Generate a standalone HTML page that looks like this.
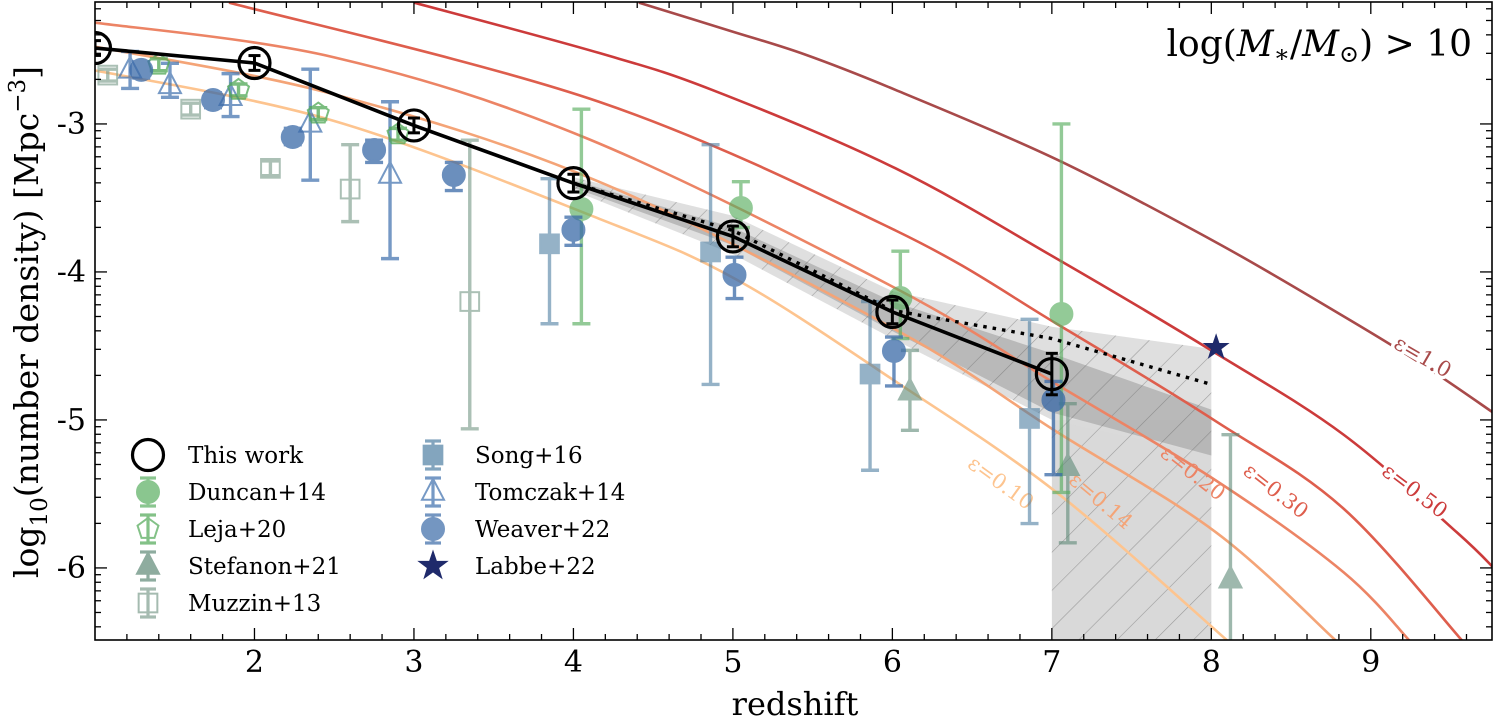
<!DOCTYPE html>
<html><head><meta charset="utf-8"><style>
html,body{margin:0;padding:0;background:#fff;}
svg{display:block;font-family:"DejaVu Serif","Liberation Serif",serif;}
</style></head><body>
<svg id="chart" width="1497" height="721" viewBox="0 0 1497 721" xmlns="http://www.w3.org/2000/svg">
<defs>
<clipPath id="clip"><rect x="95" y="2" width="1397" height="638"/></clipPath>
<pattern id="hatch" patternUnits="userSpaceOnUse" width="27" height="27" patternTransform="rotate(45)">
<line x1="0" y1="0" x2="0" y2="27" stroke="#666" stroke-width="1.2" stroke-opacity="0.55"/>
</pattern>
</defs>
<g id="bg"></g>
<g id="plot" clip-path="url(#clip)"></g>
<g id="axes"></g>
<g id="legend"></g>
</svg>
<script>
// ---- data ----
const epsLabels = ["ε=0.10","ε=0.14","ε=0.20","ε=0.30","ε=0.50","ε=1.0"];
const epsColors = ["#fdc48f","#f4a477","#ec8465","#de5e4d","#cc3b3b","#a84a4a"];
const eps010z = [0.96,2.5,4.16,5.02,6.02,7.03,8.11];
const eps010v = [-2.63,-2.98,-3.64,-4.05,-4.74,-5.49,-6.5];
const eps014z = [0.96,2.5,4.16,6.02,7.03,8.03,8.79];
const eps014v = [-2.47,-2.80,-3.39,-4.39,-5.08,-5.76,-6.5];
const eps020z = [0.96,2.5,4.09,6.02,7.03,8.03,8.83,9.25];
const eps020v = [-2.31,-2.55,-3.10,-4.11,-4.76,-5.41,-6.03,-6.5];
const eps030z = [1.84,4.16,6.02,7.03,8.03,8.83,9.58];
const eps030v = [-2.18,-2.85,-3.72,-4.35,-5.01,-5.60,-6.5];
const eps050z = [3.0,4.16,4.87,6.02,7.03,8.03,8.83,9.54,9.78];
const eps050v = [-2.18,-2.52,-2.77,-3.30,-3.91,-4.55,-5.10,-5.76,-6.01];
const eps100z = [4.41,4.98,5.45,6.02,7.03,8.03,8.83,9.33,9.78];
const eps100v = [-2.18,-2.37,-2.53,-2.77,-3.24,-3.80,-4.30,-4.63,-4.96];

const thisZ = [1,2,3,4,5,6,7];
const thisV = [-2.487,-2.588,-3.01,-3.40,-3.76,-4.27,-4.69];
const thisErr = [0.05,0.05,0.05,0.06,0.07,0.08,0.14];
const dotZ = [4,5,6,7,8];
const dotV = [-3.40,-3.72,-4.26,-4.45,-4.76];
const bandZ = [4,5,6,7,8];
const lightTop = [-3.36,-3.62,-4.13,-4.37,-4.52];
const lightBot = [-3.45,-3.88,-4.45,-5.0,-5.24];
const darkTop = [-3.38,-3.70,-4.20,-4.55,-4.93];
const darkBot = [-3.43,-3.82,-4.40,-4.95,-5.24];
const rectZ = [7,8];

const duncanZ = [4.05,5.05,6.05,7.06];
const duncanV = [-3.575,-3.568,-4.176,-4.284];
const duncanHi = [-2.90,-3.39,-3.86,-3.0];
const duncanLo = [-4.35,-3.70,-4.45,-5.49];
const lejaZ = [1.40,1.90,2.40,2.90];
const lejaV = [-2.60,-2.77,-2.93,-3.07];
const stefZ = [6.11,7.10,8.12];
const stefV = [-4.81,-5.32,-6.08];
const stefHi = [-4.53,-4.89,-5.10];
const stefLo = [-5.07,-5.83,-6.7];
const muzZ = [1.08,1.60,2.10,2.60,3.35];
const muzV = [-2.67,-2.90,-3.30,-3.44,-4.20];
const muzHi = [-2.63,-2.86,-3.25,-3.14,-3.11];
const muzLo = [-2.71,-2.94,-3.35,-3.66,-5.06];
const songZ = [3.85,4.86,5.86,6.86];
const songV = [-3.81,-3.865,-4.69,-4.99];
const songHi = [-3.37,-3.14,-4.20,-4.32];
const songLo = [-4.35,-4.76,-5.34,-5.70];
const tomZ = [1.22,1.47,1.85,2.35,2.85];
const tomV = [-2.635,-2.74,-2.82,-3.0,-3.345];
const tomHi = [-2.51,-2.59,-2.66,-2.63,-2.85];
const tomLo = [-2.76,-2.82,-2.95,-3.38,-3.91];
const weaZ = [1.29,1.74,2.24,2.75,3.25,4.0,5.01,6.01,7.01];
const weaV = [-2.635,-2.838,-3.088,-3.176,-3.345,-3.716,-4.02,-4.534,-4.865];
const weaHi = [-2.58,-2.79,-3.03,-3.11,-3.26,-3.63,-3.90,-4.44,-4.74];
const weaLo = [-2.69,-2.89,-3.14,-3.26,-3.45,-3.82,-4.18,-4.77,-5.37];
const labbeZ = [8.03];
const labbeV = [-4.51];

const xTicks = [2,3,4,5,6,7,8,9];
const yTicks = [-3,-4,-5,-6];

// ---- scales ----
const X0=95, X1=1492, Y0=2, Y1=640;
const zMin=1.0, zMax=9.76, vMax=-2.176, vMin=-6.487;
function X(z){return X0+(z-zMin)/(zMax-zMin)*(X1-X0);}
function Y(v){return Y0+(vMax-v)/(vMax-vMin)*(Y1-Y0);}

const NS="http://www.w3.org/2000/svg";
function mk(tag,attrs,parent){const e=document.createElementNS(NS,tag);for(const k in attrs)e.setAttribute(k,attrs[k]);parent.appendChild(e);return e;}
const plot=document.getElementById('plot'), axes=document.getElementById('axes'), leg=document.getElementById('legend');

function smoothPath(zs,vs){
  const p=zs.map((z,i)=>[X(z),Y(vs[i])]);
  let d=`M${p[0][0]},${p[0][1]}`;
  for(let i=0;i<p.length-1;i++){
    const a=p[Math.max(0,i-1)],b=p[i],c=p[i+1],e=p[Math.min(p.length-1,i+2)];
    const c1=[b[0]+(c[0]-a[0])/6,b[1]+(c[1]-a[1])/6],c2=[c[0]-(e[0]-b[0])/6,c[1]-(e[1]-b[1])/6];
    d+=` C${c1[0]},${c1[1]} ${c2[0]},${c2[1]} ${c[0]},${c[1]}`;
  }
  return d;
}

// ---- bands ----
function bandPoly(top,bot){
  let pts=bandZ.map((z,i)=>X(z)+","+Y(top[i]));
  pts=pts.concat(bandZ.map((z,i)=>X(z)+","+Y(bot[i])).reverse());
  return pts.join(" ");
}
let el;
el=mk('rect',{x:X(rectZ[0]),y:Y(lightBot[3]),width:X(rectZ[1])-X(rectZ[0]),height:Y1-Y(lightBot[3]),fill:'#d9d9d9'},plot);


el=mk('polygon',{points:bandPoly(lightTop,lightBot),fill:'#d9d9d9','fill-opacity':0.85},plot);


el=mk('polygon',{points:bandPoly(darkTop,darkBot),fill:'#a8a8a8','fill-opacity':0.7},plot);


{
  let pts=bandZ.map((z,i)=>X(z)+","+Y(lightTop[i]));
  pts.push(X(8)+","+Y1, X(7)+","+Y1, X(7)+","+Y(lightBot[3]));
  pts=pts.concat(bandZ.slice(0,4).map((z,i)=>X(z)+","+Y(lightBot[i])).reverse());
  el=mk('polygon',{points:pts.join(" "),fill:'url(#hatch)'},plot);
  
  
}

// ---- epsilon curves ----
const epsZ=[eps010z,eps014z,eps020z,eps030z,eps050z,eps100z];
const epsV=[eps010v,eps014v,eps020v,eps030v,eps050v,eps100v];
for(let k=0;k<6;k++){
  el=mk('path',{d:smoothPath(epsZ[k],epsV[k]),fill:'none',stroke:epsColors[k],'stroke-width':2.6},plot);
  
  
}
const lblPos=[[1000,484,36],[1100,502,40],[1192,474,38],[1275,492,38],[1414,492,37],[1422,358,30]];
const lblStroke=[7,0,0,7,7,7];
for(let k=0;k<6;k++){
  const [lx,ly,ang]=lblPos[k];
  el=mk('text',{x:lx,y:ly,'font-size':21,fill:epsColors[k],'text-anchor':'middle','dominant-baseline':'middle',transform:`rotate(${ang} ${lx} ${ly})`,stroke:'#fff','stroke-width':lblStroke[k],'paint-order':'stroke'},plot);
  el.textContent=epsLabels[k];
  
  
}

// ---- markers ----
function errbar(g,z,hi,lo,color,w){
  const x=X(z);
  mk('line',{x1:x,x2:x,y1:Y(hi),y2:Y(lo),stroke:color,'stroke-width':w},g);
  mk('line',{x1:x-9,x2:x+9,y1:Y(hi),y2:Y(hi),stroke:color,'stroke-width':w},g);
  mk('line',{x1:x-9,x2:x+9,y1:Y(lo),y2:Y(lo),stroke:color,'stroke-width':w},g);
}
function marker(g,type,x,y,color,fill,s){
  s=s||11;
  if(type==='circle') mk('circle',{cx:x,cy:y,r:s,fill:fill,stroke:color,'stroke-width':2},g);
  else if(type==='square') mk('rect',{x:x-s*0.85,y:y-s*0.85,width:s*1.7,height:s*1.7,fill:fill,stroke:color,'stroke-width':2},g);
  else if(type==='tri') mk('polygon',{points:`${x},${y-s*1.2} ${x-s},${y+s*0.7} ${x+s},${y+s*0.7}`,fill:fill,stroke:color,'stroke-width':2},g);
  else if(type==='pent'){let p=[];for(let i=0;i<5;i++){const a=-Math.PI/2+i*2*Math.PI/5;p.push((x+s*Math.cos(a))+","+(y+s*Math.sin(a)));}mk('polygon',{points:p.join(" "),fill:fill,stroke:color,'stroke-width':2},g);}
  else if(type==='star'){let p=[];for(let i=0;i<10;i++){const r=i%2?s*0.45:s*1.15;const a=-Math.PI/2+i*Math.PI/5;p.push((x+r*Math.cos(a))+","+(y+r*Math.sin(a)));}mk('polygon',{points:p.join(" "),fill:fill,stroke:color,'stroke-width':1},g);}
}
function series(name,zs,vs,his,los,type,color,fill,alpha){
  const g=mk('g',{opacity:alpha},plot);
  
  
  zs.forEach((z,i)=>{
    if(his) errbar(g,z,his[i],los[i],color,3.4);
    marker(g,type,X(z),Y(vs[i]),color,fill);
  });
}
const lejaHi=lejaV.map(v=>v+0.04), lejaLo=lejaV.map(v=>v-0.04);
series('muzzin13-points',muzZ,muzV,muzHi,muzLo,'square','#7f9f8f','none',0.65);
series('song16-points',songZ,songV,songHi,songLo,'square','#4f7fa3','#4f7fa3',0.6);
series('stefanon21-points',stefZ,stefV,stefHi,stefLo,'tri','#5f8a77','#5f8a77',0.6);
series('tomczak14-points',tomZ,tomV,tomHi,tomLo,'tri','#3d6fad','none',0.7);
series('duncan14-points',duncanZ,duncanV,duncanHi,duncanLo,'circle','#5aae61','#5aae61',0.65);
series('leja20-points',lejaZ,lejaV,lejaHi,lejaLo,'pent','#4fa855','none',0.75);
series('weaver22-points',weaZ,weaV,weaHi,weaLo,'circle','#3a6aa8','#3a6aa8',0.75);
series('labbe22-points',labbeZ,labbeV,null,null,'star','#1f2a6b','#1f2a6b',1);

// ---- this work ----
el=mk('path',{d:'M'+dotZ.map((z,i)=>X(z)+","+Y(dotV[i])).join(" L"),fill:'none',stroke:'#000','stroke-width':3.4,'stroke-dasharray':'3.5 6'},plot);


el=mk('path',{d:'M'+thisZ.map((z,i)=>X(z)+","+Y(thisV[i])).join(" L"),fill:'none',stroke:'#000','stroke-width':3.6},plot);


{
  const g=mk('g',{},plot);
  
  
  thisZ.forEach((z,i)=>{
    const x=X(z);
    mk('circle',{cx:x,cy:Y(thisV[i]),r:15.5,fill:'none',stroke:'#000','stroke-width':3.2},g);
    const h=Y(thisV[i]+thisErr[i]),l=Y(thisV[i]-thisErr[i]);
    mk('line',{x1:x,x2:x,y1:h,y2:l,stroke:'#000','stroke-width':3},g);
    mk('line',{x1:x-6,x2:x+6,y1:h,y2:h,stroke:'#000','stroke-width':3},g);
    mk('line',{x1:x-6,x2:x+6,y1:l,y2:l,stroke:'#000','stroke-width':3},g);
  });
}

// ---- axes ----
el=mk('rect',{x:X0,y:Y0,width:X1-X0,height:Y1-Y0,fill:'none',stroke:'#000','stroke-width':1.6},axes);


for(let z=1.2;z<zMax;z+=0.2){
  const x=X(z);const major=Math.abs(z-Math.round(z))<0.01;const L=major?12:6;
  mk('line',{x1:x,x2:x,y1:Y1,y2:Y1-L,stroke:'#000','stroke-width':1.3},axes);
  mk('line',{x1:x,x2:x,y1:Y0,y2:Y0+L,stroke:'#000','stroke-width':1.3},axes);
}
xTicks.forEach(t=>{
  el=mk('text',{x:X(t),y:672,'font-size':30,'text-anchor':'middle'},axes);
  el.textContent=t;
  
  
});
for(let n=2;n<=7;n++){
  for(let k=1;k<=9;k++){
    const v=-n+Math.log10(k);if(v>vMax||v<vMin)continue;
    const y=Y(v);const L=k===1?12:6;
    mk('line',{x1:X0,x2:X0+L,y1:y,y2:y,stroke:'#000','stroke-width':1.3},axes);
    mk('line',{x1:X1,x2:X1-L,y1:y,y2:y,stroke:'#000','stroke-width':1.3},axes);
  }
}
yTicks.forEach(t=>{
  el=mk('text',{x:86,y:Y(t)+10,'font-size':30,'text-anchor':'end'},axes);
  el.textContent=String(t);
  
  
});
el=mk('text',{x:795,y:715,'font-size':32,'text-anchor':'middle'},axes);
el.textContent='redshift';


el=mk('text',{x:0,y:0,'font-size':33,'text-anchor':'middle',transform:'translate(38,322) rotate(-90)'},axes);
el.innerHTML='log<tspan font-size="23" dy="9">10</tspan><tspan dy="-9">(number density) [Mpc</tspan><tspan font-size="23" dy="-13">−3</tspan><tspan dy="13">]</tspan>';


el=mk('text',{x:1472,y:56,'font-size':36,'text-anchor':'end'},axes);
el.innerHTML='log(<tspan font-style="italic">M</tspan><tspan font-size="24" dy="6">∗</tspan><tspan dy="-6">/</tspan><tspan font-style="italic">M</tspan><tspan font-size="24" dy="6">⊙</tspan><tspan dy="-6">) &gt; 10</tspan>';



// ---- legend ----
const legNames=["This work","Duncan+14","Leja+20","Stefanon+21","Muzzin+13","Song+16","Tomczak+14","Weaver+22","Labbe+22"];
const legTypes=["this","circle","pent","tri","square","square","tri","circle","star"];
const legColors=["#000","#5aae61","#4fa855","#5f8a77","#7f9f8f","#4f7fa3","#3d6fad","#3a6aa8","#1f2a6b"];
const legFills=["none","#5aae61","none","#5f8a77","none","#4f7fa3","none","#3a6aa8","#1f2a6b"];
const legErr=[false,true,true,true,true,true,true,true,false];
legNames.forEach((nm,i)=>{
  const col=i<5?0:1,row=i<5?i:i-5;
  const mx=col?433:148, tx=col?475:188, y=455+row*37;
  const g=mk('g',{},leg);
  
  
  const mg=mk('g',{opacity:i===0||i===8?1:0.7},g);
  if(legTypes[i]==='this') mk('circle',{cx:mx,cy:y,r:15.5,fill:'none',stroke:'#000','stroke-width':3.2},mg);
  else{
    if(legErr[i]){mk('line',{x1:mx,x2:mx,y1:y-14,y2:y+14,stroke:legColors[i],'stroke-width':3.2},mg);
      mk('line',{x1:mx-8,x2:mx+8,y1:y-14,y2:y-14,stroke:legColors[i],'stroke-width':3.2},mg);
      mk('line',{x1:mx-8,x2:mx+8,y1:y+14,y2:y+14,stroke:legColors[i],'stroke-width':3.2},mg);}
    marker(mg,legTypes[i],mx,y,legColors[i],legFills[i],legTypes[i]==='star'?13:11);
  }
  const t=mk('text',{x:tx,y:y+8,'font-size':23},g);
  t.textContent=nm;
});
</script>
</body></html>
